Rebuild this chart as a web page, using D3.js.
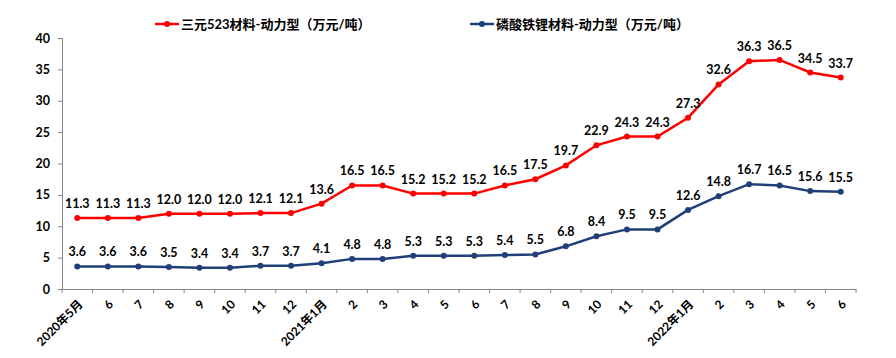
<!DOCTYPE html>
<html><head><meta charset="utf-8">
<script src="https://cdn.jsdelivr.net/npm/d3@7"></script>
<style>
body{margin:0;background:#fff;}
text{font-family:Lato,"Noto Sans CJK SC",sans-serif;}
</style></head>
<body><svg id="c" width="896" height="358"></svg>
<script>
const categories = ["2020年5月","6","7","8","9","10","11","12","2021年1月","2","3","4","5","6","7","8","9","10","11","12","2022年1月","2","3","4","5","6"];
const ternary = [11.3,11.3,11.3,12.0,12.0,12.0,12.1,12.1,13.6,16.5,16.5,15.2,15.2,15.2,16.5,17.5,19.7,22.9,24.3,24.3,27.3,32.6,36.3,36.5,34.5,33.7];
const lfp = [3.6,3.6,3.6,3.5,3.4,3.4,3.7,3.7,4.1,4.8,4.8,5.3,5.3,5.3,5.4,5.5,6.8,8.4,9.5,9.5,12.6,14.8,16.7,16.5,15.6,15.5];
const seriesNames = ["三元523材料-动力型（万元/吨）","磷酸铁锂材料-动力型（万元/吨）"];
const yTicks = [0,5,10,15,20,25,30,35,40];
const colors = ["#FF0000","#203F78"];

const svg = d3.select("#c");
const idx = categories.map((c,i)=>i);
const x = d3.scaleBand().domain(idx).range([62,856]);
const cx = i => x(i)+x.bandwidth()/2;
const y = d3.scaleLinear().domain([0,40]).range([289,38]);

// y axis
const ya = svg.append("g").attr("transform","translate(62,0)").call(d3.axisLeft(y).tickValues(yTicks).tickSize(4).tickPadding(8));
ya.selectAll("path,line").attr("stroke","#868686");
ya.selectAll("text").attr("font-size","12.5px").attr("font-weight","bold").attr("fill","#000");

// x axis
const xa = svg.append("g").attr("transform","translate(0,289)").call(d3.axisBottom(x).tickSize(0).tickSizeOuter(0).tickFormat(i=>categories[i]));
xa.select("path").attr("stroke","#868686");
xa.selectAll(".tick line").remove();
const bounds = idx.map(i=>x(i)).concat([x(idx.length-1)+x.bandwidth()]);
xa.selectAll(".bt").data(bounds).enter().append("line").attr("x1",d=>d).attr("x2",d=>d).attr("y1",0).attr("y2",4).attr("stroke","#868686");
xa.selectAll(".tick text").attr("font-size","12px").attr("font-weight","bold").attr("fill","#000")
  .attr("text-anchor","end").attr("dy","0").attr("transform","translate(4,14) rotate(-45)");

const line = d3.line().x((d,i)=>cx(i)).y(d=>y(d));
[ternary,lfp].forEach((s,k)=>{
  svg.append("path").attr("d",line(s)).attr("fill","none").attr("stroke",colors[k]).attr("stroke-width",2.5);
  svg.selectAll(".p"+k).data(s).enter().append("circle")
    .attr("cx",(d,i)=>cx(i)).attr("cy",d=>y(d)).attr("r",3).attr("fill",colors[k]);
  svg.selectAll(".l"+k).data(s).enter().append("text")
    .attr("x",(d,i)=>cx(i)).attr("y",d=>y(d)-10)
    .attr("text-anchor","middle").attr("font-size","12.5px").attr("font-weight","bold").attr("fill","#000")
    .text(d=>d.toFixed(1));
});

// legend
const legX = [155,470];
seriesNames.forEach((n,k)=>{
  const g = svg.append("g").attr("transform",`translate(${legX[k]},24)`);
  g.append("line").attr("x1",0).attr("x2",24).attr("stroke",colors[k]).attr("stroke-width",2.5);
  g.append("circle").attr("cx",12).attr("r",3).attr("fill",colors[k]);
  g.append("text").attr("x",26).attr("y",4.5).attr("font-size","13px").attr("font-weight","bold").attr("fill","#000").text(n);
});
</script></body></html>
